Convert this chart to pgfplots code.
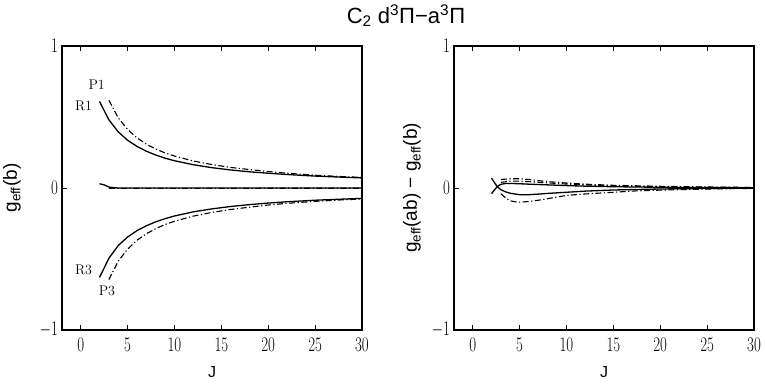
\documentclass[border=0pt]{standalone}
\usepackage{pgfplots}
\pgfplotsset{compat=1.18}
\usepackage{fontspec}
\newfontfamily\lab{Liberation Sans}
\begin{document}
\begin{tikzpicture}
\useasboundingbox (0pt,0pt) rectangle (765pt,384pt);
\pgfplotsset{
 myax/.style={
  scale only axis, width=300pt, height=284pt,
  xmin=-2, xmax=30, ymin=-1, ymax=1,
  xtick={0,5,...,30}, ytick={-1,0,1},
  tick align=inside, xtick pos=both, ytick pos=left,
  major tick length=5pt, minor tick num=0,
  axis line style={line width=1.2pt},
  every tick/.style={black, line width=0.9pt},
  tick label style={font=\fontsize{22}{22}\selectfont, xscale=0.72},
  xticklabel style={yshift=-5pt},
  yticklabel style={xshift=-2pt},
  xlabel={J},
  every axis x label/.style={at={(axis description cs:0.5,-0.148)}, anchor=center, font=\lab\fontsize{16}{16}\selectfont},
  anchor=south west,
 },
 dd/.style={black, line width=1.1pt, dash pattern=on 6pt off 2.5pt on 1.2pt off 2.5pt},
 sl/.style={black, line width=1.3pt},
}
\node[font=\lab\fontsize{22}{22}\selectfont] at (406pt,368pt) {C\textsubscript{2} d\textsuperscript{3}Π−a\textsuperscript{3}Π};
\begin{axis}[myax, at={(62pt,54pt)},
  ylabel={g\textsubscript{eff}(b)},
  every axis y label/.style={at={(axis description cs:-0.167,0.5)}, rotate=90, anchor=center, font=\lab\fontsize{19}{19}\selectfont}]
% R1
\addplot[sl] coordinates {(2,0.610)(3,0.480)(4,0.395)(5,0.336)(6,0.293)(7,0.259)(8,0.232)(9,0.210)(10,0.192)(12,0.164)(14,0.143)(16,0.127)(18,0.114)(20,0.104)(22,0.095)(25,0.084)(28,0.076)(30,0.071)};
% P1
\addplot[dd] coordinates {(3,0.618)(4,0.494)(5,0.412)(6,0.353)(7,0.309)(8,0.274)(9,0.247)(10,0.225)(12,0.190)(14,0.165)(16,0.145)(18,0.130)(20,0.116)(22,0.104)(25,0.090)(28,0.080)(30,0.075)};
% R3
\addplot[sl] coordinates {(2,-0.630)(3,-0.495)(4,-0.405)(5,-0.345)(6,-0.300)(7,-0.266)(8,-0.238)(9,-0.216)(10,-0.197)(12,-0.168)(14,-0.147)(16,-0.130)(18,-0.117)(20,-0.106)(22,-0.097)(25,-0.086)(28,-0.078)(30,-0.073)};
% P3
\addplot[dd] coordinates {(3,-0.645)(4,-0.515)(5,-0.430)(6,-0.368)(7,-0.322)(8,-0.286)(9,-0.257)(10,-0.234)(12,-0.198)(14,-0.172)(16,-0.151)(18,-0.135)(20,-0.120)(22,-0.108)(25,-0.094)(28,-0.083)(30,-0.078)};
% middle
\addplot[sl] coordinates {(2,0.030)(2.5,0.022)(3,0.007)(3.5,0.002)(4,0.0)(10,0.0)(20,0.0)(30,0.0)};
\addplot[dd] coordinates {(3,-0.003)(10,-0.003)(20,-0.002)(30,-0.002)};
\node[font=\fontsize{14}{14}\selectfont] at (axis cs:1.7,0.73) {P1};
\node[font=\fontsize{14}{14}\selectfont] at (axis cs:0.3,0.575) {R1};
\node[font=\fontsize{14}{14}\selectfont] at (axis cs:0.3,-0.58) {R3};
\node[font=\fontsize{14}{14}\selectfont] at (axis cs:2.8,-0.725) {P3};
\end{axis}
\begin{axis}[myax, at={(454pt,54pt)},
  ylabel={g\textsubscript{eff}(ab) − g\textsubscript{eff}(b)},
  every axis y label/.style={at={(axis description cs:-0.14,0.5)}, rotate=90, anchor=center, font=\lab\fontsize{19}{19}\selectfont}]
\addplot[sl] coordinates {(2,0.070)(2.6,0.010)(3,-0.012)(3.5,-0.027)(4,-0.037)(5,-0.047)(6,-0.047)(7,-0.043)(8,-0.038)(10,-0.030)(12,-0.022)(15,-0.014)(20,-0.007)(25,-0.003)(30,-0.001)};
\addplot[sl] coordinates {(2,-0.040)(2.6,0.010)(3,0.026)(3.5,0.032)(4,0.032)(5,0.030)(6,0.027)(8,0.022)(10,0.017)(12,0.013)(15,0.009)(20,0.005)(25,0.003)(30,0.002)};
\addplot[dd] coordinates {(3,0.060)(4,0.065)(5,0.065)(6,0.060)(7,0.052)(8,0.045)(10,0.035)(12,0.027)(15,0.019)(20,0.012)(25,0.007)(30,0.004)};
\addplot[dd] coordinates {(3,0.040)(4,0.048)(5,0.048)(6,0.045)(8,0.036)(10,0.028)(12,0.022)(15,0.015)(20,0.009)(25,0.005)(30,0.003)};
\addplot[dd] coordinates {(3,-0.040)(3.5,-0.070)(4,-0.090)(4.5,-0.097)(5,-0.100)(6,-0.095)(7,-0.086)(8,-0.075)(10,-0.052)(12,-0.042)(15,-0.030)(17.5,-0.020)(20,-0.015)(23,-0.010)(26,-0.006)(30,-0.003)};
\end{axis}
\end{tikzpicture}
\end{document}
